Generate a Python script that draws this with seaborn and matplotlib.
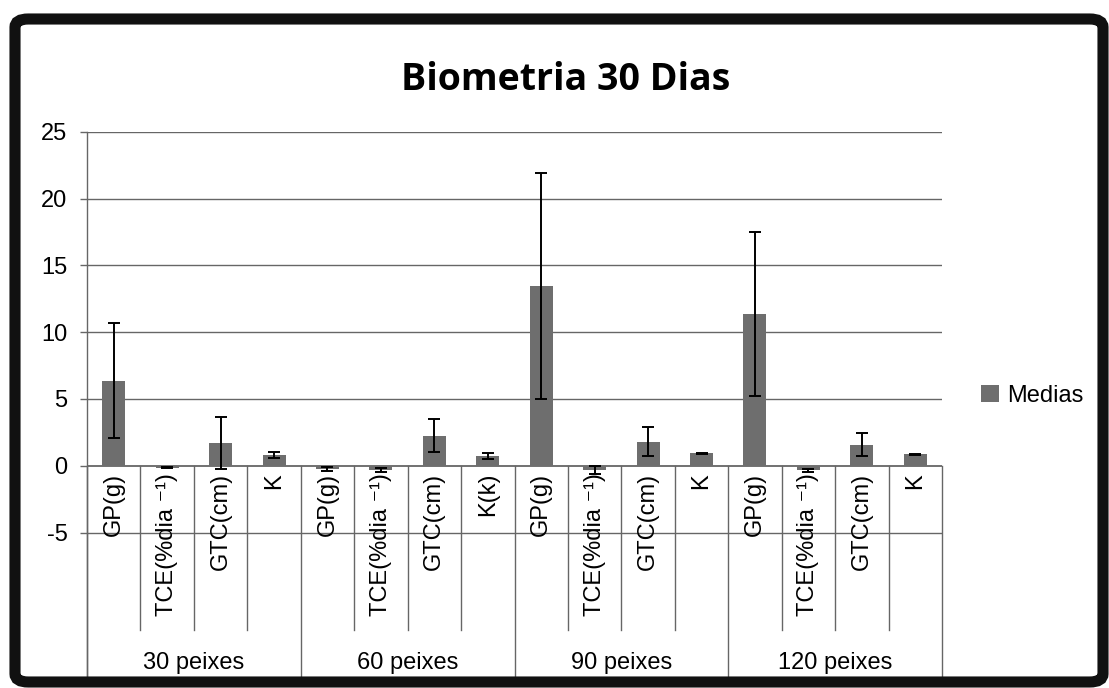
import numpy as np
import pandas as pd
import seaborn as sns
import matplotlib
matplotlib.use("Agg")
import matplotlib.pyplot as plt
from matplotlib.patches import Patch, FancyBboxPatch

# ---- data ----
groups = ["30 peixes", "60 peixes", "90 peixes", "120 peixes"]
labels_30 = ["GP(g)", "TCE(%dia \u207b\u00b9)", "GTC(cm)", "K"]
labels_60 = ["GP(g)", "TCE(%dia \u207b\u00b9)", "GTC(cm)", "K(k)"]
labels_90 = ["GP(g)", "TCE(%dia \u207b\u00b9)", "GTC(cm)", "K"]
labels_120 = ["GP(g)", "TCE(%dia \u207b\u00b9)", "GTC(cm)", "K"]
medias_30 = [6.35, -0.15, 1.73, 0.78]
medias_60 = [-0.28, -0.30, 2.25, 0.72]
medias_90 = [13.47, -0.30, 1.80, 0.93]
medias_120 = [11.36, -0.35, 1.58, 0.86]
erro_30 = [4.3, 0.05, 1.95, 0.22]
erro_60 = [0.15, 0.15, 1.25, 0.2]
erro_90 = [8.45, 0.3, 1.1, 0.02]
erro_120 = [6.15, 0.1, 0.85, 0.05]
yticks = [-5, 0, 5, 10, 15, 20, 25]

all_labels = [labels_30, labels_60, labels_90, labels_120]
all_medias = [medias_30, medias_60, medias_90, medias_120]
all_erros = [erro_30, erro_60, erro_90, erro_120]

rows = []
for g, labs, meds, errs in zip(groups, all_labels, all_medias, all_erros):
    for l, m, e in zip(labs, meds, errs):
        rows.append({"key": g + "|" + l, "grupo": g, "rotulo": l, "media": m, "erro": e})
df = pd.DataFrame(rows)

W, H = 1109, 688
fig = plt.figure(figsize=(W / 100, H / 100), dpi=100)
fig.patch.set_facecolor("white")

y_top_px, y_zero_px = 131.7, 465.7
ppu = (y_zero_px - y_top_px) / 25.0
bottom_px = 677
ymin = -(bottom_px - y_zero_px) / ppu
ax_left, ax_right = 87 / W, 942 / W
ax = fig.add_axes([ax_left, 1 - bottom_px / H, ax_right - ax_left, (bottom_px - y_top_px) / H])

sns.barplot(data=df, x="key", y="media", order=list(df["key"]), color="#6e6e6e",
            saturation=1, width=0.43, errorbar=None, ax=ax, zorder=3)
xs = np.arange(len(df))
ax.errorbar(xs, df["media"], yerr=df["erro"], fmt="none", ecolor="black",
            elinewidth=1.4, capsize=4.5, capthick=1.4, zorder=4)

ax.set_xlim(-0.5, len(df) - 0.5)
ax.set_ylim(ymin, 25)
ax.set_xticks([])
ax.set_xlabel("")
ax.set_ylabel("")
ax.set_yticks(yticks)
ax.set_yticklabels([str(v) for v in yticks], fontsize=17, family="Liberation Sans")
ax.tick_params(axis="y", length=5, width=1, color="#666666", pad=9)
for s in ["top", "right", "bottom"]:
    ax.spines[s].set_visible(False)
ax.spines["left"].set_color("#666666")
ax.spines["left"].set_linewidth(1)
ax.set_facecolor("none")

gc = "#666666"
for v in yticks:
    ax.axhline(v, color=gc, lw=1.0 if v != 0 else 1.3, zorder=1)

# category separators
inner_bottom = -(630 - y_zero_px) / ppu
for i in range(len(df) + 1):
    xb = i - 0.5
    if i % 4 == 0:
        ax.plot([xb, xb], [0, ymin], color=gc, lw=1.0, zorder=1, clip_on=False)
    else:
        ax.plot([xb, xb], [0, inner_bottom], color=gc, lw=1.0, zorder=1, clip_on=False)

# category labels
lab_top = -(473 - y_zero_px) / ppu
for i, lab in enumerate(df["rotulo"]):
    ax.text(i, lab_top, lab, rotation=90, ha="center", va="top", fontsize=17,
            family=["Liberation Sans", "DejaVu Sans"], zorder=5)
grp_y = -(663 - y_zero_px) / ppu
for j, g in enumerate(groups):
    ax.text(4 * j + 1.5, grp_y, g, ha="center", va="center", fontsize=17,
            family="Liberation Sans")

# title
fig.text(566 / W, 1 - 90 / H, "Biometria 30 Dias", ha="center", va="baseline",
         fontsize=27, fontweight="bold", family="Open Sans")

# legend
fig.legend(handles=[Patch(facecolor="#6e6e6e", edgecolor="none")], labels=["Medias"],
           loc="center left", bbox_to_anchor=(981 / W, 1 - 396 / H), frameon=False,
           handlelength=0.75, handleheight=0.75, handletextpad=0.35, borderpad=0,
           borderaxespad=0, prop={"family": "Liberation Sans", "size": 17})

# outer frame
frame = FancyBboxPatch((15 / W, 6 / H), (1103 - 15) / W, (669 - 6) / H,
                       boxstyle="round,pad=0,rounding_size=0.012",
                       transform=fig.transFigure, fill=False, edgecolor="#111111",
                       linewidth=8, zorder=10)
fig.patches.append(frame)

fig.savefig("out.png", dpi=100, facecolor="white")
